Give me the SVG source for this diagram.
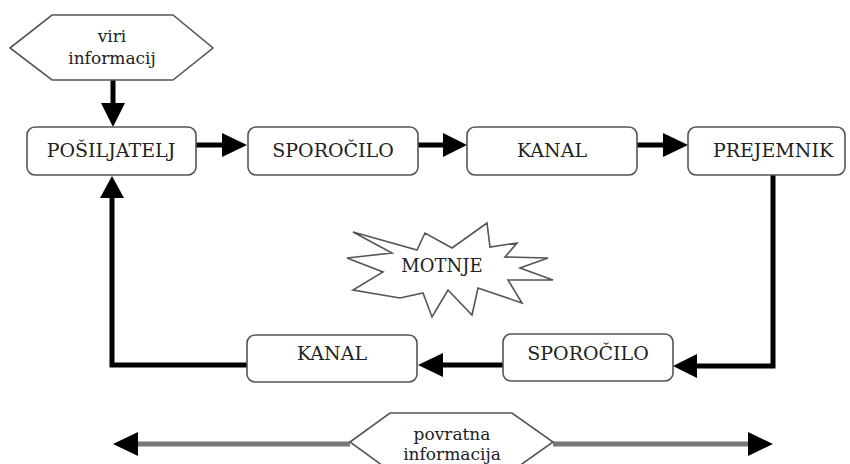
<svg xmlns="http://www.w3.org/2000/svg" width="850" height="464" viewBox="0 0 850 464">
<style>
.box{fill:#fff;stroke:#555;stroke-width:1.6}
.t{font-family:'DejaVu Serif',serif;font-size:19px;fill:#222;text-anchor:middle}
.s{font-size:17px}
.c{fill:none;stroke:#000;stroke-width:5}
.g{fill:none;stroke:#777;stroke-width:5}
.ah{fill:#000}
</style>
<rect width="850" height="464" fill="#fff"/>
<g id="connectors">
<line class="c" x1="113" y1="80" x2="113" y2="104"/>
<polygon class="ah" points="101,103 125,103 113,127"/>
<line class="c" x1="196" y1="145" x2="224" y2="145"/>
<polygon class="ah" points="222,133 222,157 247,145"/>
<line class="c" x1="418" y1="145" x2="445" y2="145"/>
<polygon class="ah" points="443,133 443,157 467,145"/>
<line class="c" x1="637" y1="145" x2="665" y2="145"/>
<polygon class="ah" points="663,133 663,157 688,145"/>
<polyline class="c" points="773,175 773,366 695,366"/>
<polygon class="ah" points="697,354 697,378 673,366"/>
<line class="c" x1="503" y1="365" x2="441" y2="365"/>
<polygon class="ah" points="443,353 443,377 418,365"/>
<polyline class="c" points="247,365 112,365 112,196"/>
<polygon class="ah" points="100,198 124,198 112,176"/>
<line class="g" x1="136" y1="444" x2="350" y2="444"/>
<polygon class="ah" points="138,432 138,456 113,444"/>
<line class="g" x1="553" y1="444" x2="750" y2="444"/>
<polygon class="ah" points="748,432 748,456 773,444"/>
</g>
<g id="viri">
<polygon class="box" points="10,48 52,15 173,15 213,48 173,80 52,80"/>
<text class="t s" x="112" y="42">viri</text>
<text class="t s" x="112" y="64">informacij</text>
</g>
<g id="posiljatelj">
<rect class="box" x="27" y="127" width="169" height="48" rx="8"/>
<text class="t" x="111" y="157">POŠILJATELJ</text>
</g>
<g id="sporocilo1">
<rect class="box" x="248" y="127" width="170" height="48" rx="8"/>
<text class="t" x="333" y="157">SPOROČILO</text>
</g>
<g id="kanal1">
<rect class="box" x="467" y="127" width="170" height="48" rx="8"/>
<text class="t" x="552" y="157">KANAL</text>
</g>
<g id="prejemnik">
<rect class="box" x="688" y="127" width="157" height="48" rx="8"/>
<text class="t" x="773" y="157">PREJEMNIK</text>
</g>
<g id="sporocilo2">
<rect class="box" x="503" y="334" width="170" height="47" rx="8"/>
<text class="t" x="588" y="360">SPOROČILO</text>
</g>
<g id="kanal2">
<rect class="box" x="247" y="335" width="170" height="47" rx="8"/>
<text class="t" x="332" y="360">KANAL</text>
</g>
<g id="motnje">
<polygon class="box" points="353,232 417,250 425,233 452,248 487,223 490,247 517,243 505,257 548,258 520,268 553,280 508,280 522,303 478,288 472,315 448,290 432,317 423,293 400,298 353,290 383,272 347,258 392,253"/>
<text class="t" x="442" y="272" style="font-size:18px">MOTNJE</text>
</g>
<g id="povratna">
<polygon class="box" points="350,442 390,413 512,413 553,442 512,471 390,471"/>
<text class="t s" x="452" y="440">povratna</text>
<text class="t s" x="452" y="460">informacija</text>
</g>
</svg>
